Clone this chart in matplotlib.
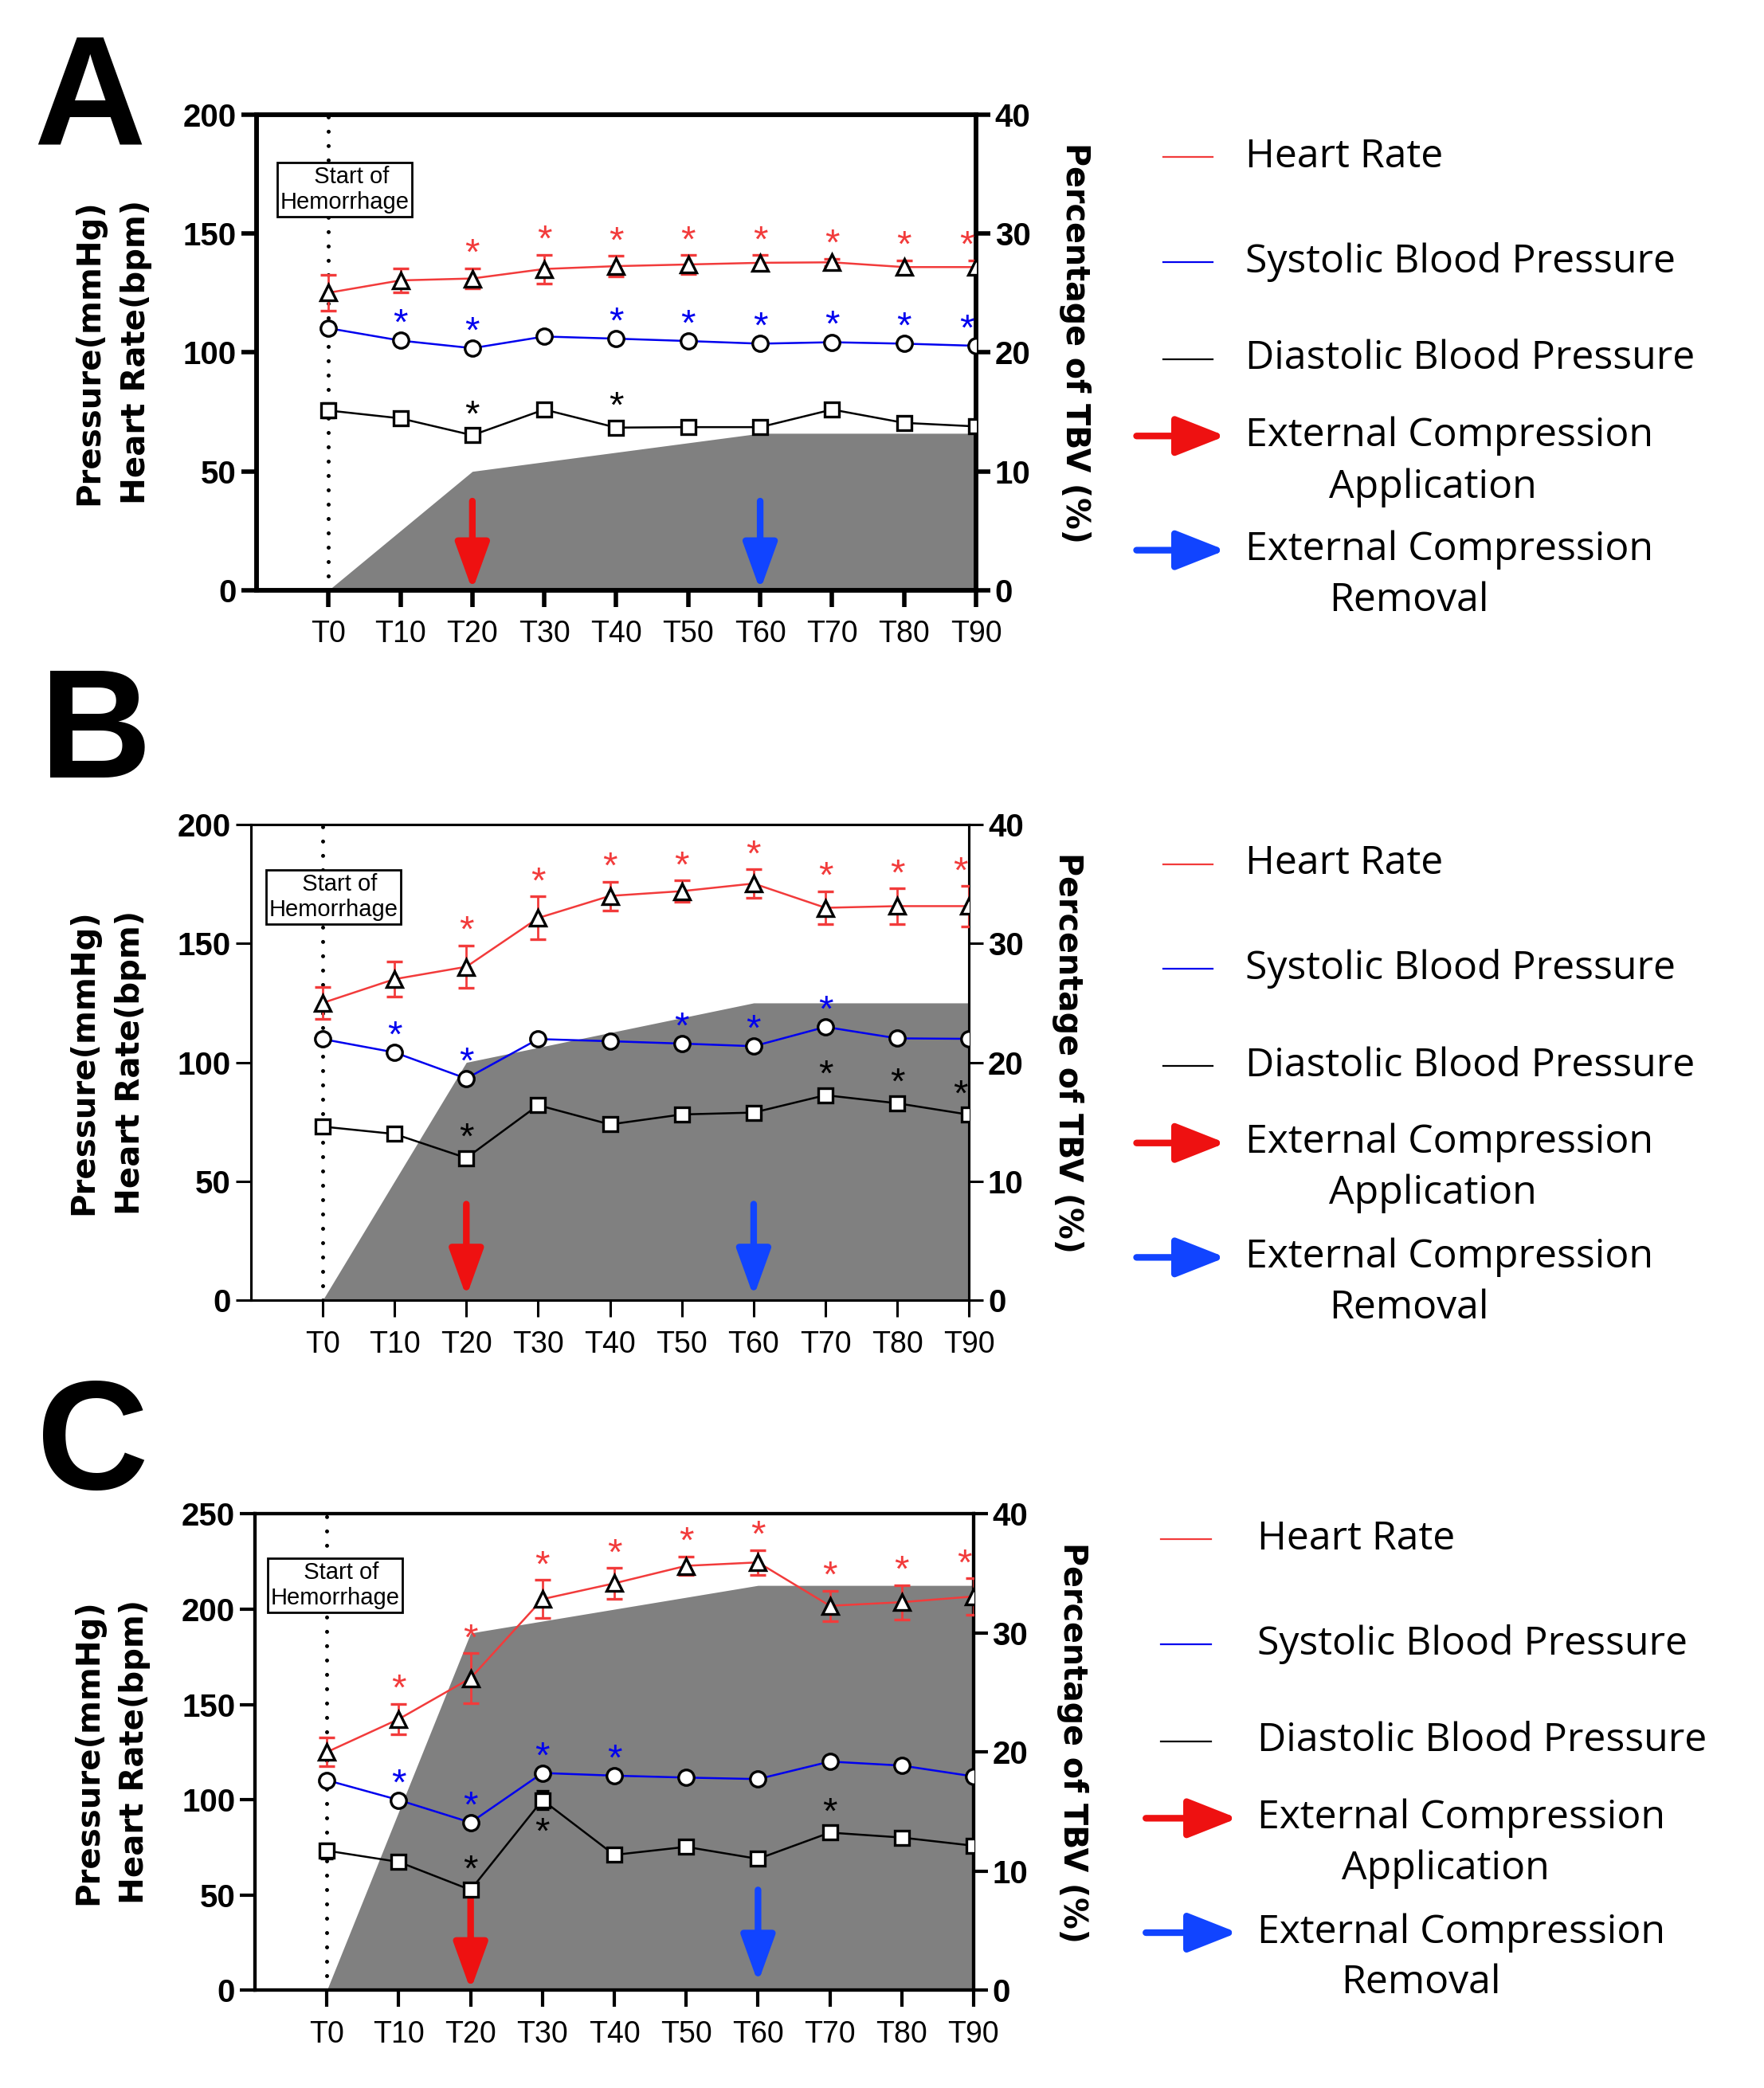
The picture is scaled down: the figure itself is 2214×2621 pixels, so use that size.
import matplotlib
matplotlib.use('Agg')
import matplotlib.pyplot as plt
from matplotlib.patches import FancyArrowPatch
from matplotlib.lines import Line2D

# time points (min) and labels
minutes = [0, 10, 20, 30, 40, 50, 60, 70, 80, 90]
tick_labels = ['T0', 'T10', 'T20', 'T30', 'T40', 'T50', 'T60', 'T70', 'T80', 'T90']

# ---- panel A ----
hr_a = [125.1, 130.3, 131.1, 135.1, 136.3, 137.0, 137.7, 137.9, 135.9, 135.9]
hr_a_err = [7.6, 5.0, 4.3, 6.0, 4.4, 4.0, 3.2, 1.6, 2.9, 2.9]
sbp_a = [110.2, 105.0, 101.8, 106.7, 105.8, 104.8, 103.7, 104.3, 103.7, 102.8]
sbp_a_err = [1, 1, 1, 1, 1, 1, 1, 1, 1, 1]
dbp_a = [75.6, 72.3, 65.2, 76.0, 68.4, 68.6, 68.6, 76.0, 70.4, 68.9]
dbp_a_err = [3, 1, 1, 1, 1.5, 1, 1, 1, 1, 1]
tbv_time = [0, 20, 60, 90]
tbv_a = [0, 10, 13.2, 13.2]
hr_star_a = [20, 30, 40, 50, 60, 70, 80, 90]
sbp_star_a = [10, 20, 40, 50, 60, 70, 80, 90]
dbp_star_a = [20, 40]
dbp_below_a = []

# ---- panel B ----
hr_b = [125.0, 135.0, 140.2, 160.7, 170.0, 172.0, 175.2, 165.0, 165.7, 165.7]
hr_b_err = [6.8, 7.5, 9.0, 9.0, 6.0, 4.5, 6.0, 7.0, 7.5, 8.5]
sbp_b = [109.8, 104.2, 93.2, 109.8, 108.9, 107.9, 106.8, 114.9, 110.1, 109.9]
sbp_b_err = [1, 1, 1, 1, 1, 1, 1, 1, 1, 1]
dbp_b = [73.0, 69.9, 59.8, 82.0, 73.9, 78.1, 78.9, 86.2, 82.8, 78.0]
dbp_b_err = [1, 1, 1, 1, 1, 2.5, 2, 1, 1, 1]
tbv_b = [0, 20, 25, 25]
hr_star_b = [20, 30, 40, 50, 60, 70, 80, 90]
sbp_star_b = [10, 20, 50, 60, 70]
dbp_star_b = [20, 70, 80, 90]
dbp_below_b = []

# ---- panel C ----
hr_c = [125.0, 142.3, 163.8, 205.3, 213.6, 222.8, 224.6, 201.8, 203.7, 206.7]
hr_c_err = [7.5, 8.0, 13.0, 10.0, 8.0, 5.0, 6.5, 8.0, 9.0, 9.5]
sbp_c = [110.2, 99.8, 88.0, 114.0, 112.6, 111.6, 110.8, 120.0, 117.9, 112.2]
sbp_c_err = [1, 1, 1, 1, 1, 1, 1, 1, 1, 1]
dbp_c = [73.2, 67.3, 52.6, 99.8, 71.0, 75.2, 68.9, 82.7, 80.1, 75.8]
dbp_c_err = [4, 1, 1, 5, 1, 1, 1, 1, 3, 1]
tbv_c = [0, 30, 34, 34]
hr_star_c = [10, 20, 30, 40, 50, 60, 70, 80, 90]
sbp_star_c = [10, 20, 30, 40]
dbp_star_c = [20, 70]
dbp_below_c = [30]

HR_COL = '#f23b3b'
SBP_COL = '#0000ee'
DBP_COL = 'black'
RED_ARR = '#ee1111'
BLUE_ARR = '#1144ff'
NUM_FONT = ['Liberation Sans', 'DejaVu Sans']
LEG_FONT = ['Open Sans', 'DejaVu Sans']


def add_stars(ax, times, vals, errs, color, dy):
    for t in times:
        i = minutes.index(t)
        dx = -8 if t == 90 else 0
        ax.annotate('*', xy=(t, vals[i] + (errs[i] if dy > 0 else -errs[i])),
                    xytext=(dx, dy), textcoords='offset points',
                    ha='center', va='center', color=color, fontsize=34,
                    family=NUM_FONT, zorder=6)


def draw_panel(ax, hr, hr_err, sbp, sbp_err, dbp, dbp_err, tbv, ymax,
               hr_st, sbp_st, dbp_st, dbp_below, box_xy, red_arr, blue_arr, sw):
    ax2 = ax.twinx()
    ax.set_zorder(ax2.get_zorder() + 1)
    ax.patch.set_visible(False)

    ax2.fill_between(tbv_time, 0, tbv, color='#808080', lw=0)
    ax2.set_ylim(0, 40)
    ax2.set_yticks([0, 10, 20, 30, 40])

    ax.plot([0, 0], [0, ymax], color='black', lw=3.6,
            linestyle=(0, (0.001, 3.6)), dash_capstyle='round', zorder=1.5)

    ax.errorbar(minutes, hr, yerr=hr_err, color=HR_COL, lw=1.8, marker='^',
                ms=14, mfc='white', mec='black', mew=2.4, capsize=7,
                capthick=2, elinewidth=2, zorder=4)
    ax.errorbar(minutes, sbp, yerr=sbp_err, color=SBP_COL, lw=1.8, marker='o',
                ms=14, mfc='white', mec='black', mew=2.4, capsize=6,
                capthick=2, elinewidth=2, ecolor='black', zorder=4)
    ax.errorbar(minutes, dbp, yerr=dbp_err, color=DBP_COL, lw=1.8, marker='s',
                ms=13, mfc='white', mec='black', mew=2.4, capsize=6,
                capthick=2, elinewidth=2, zorder=4)

    add_stars(ax, hr_st, hr, hr_err, HR_COL, 12)
    add_stars(ax, sbp_st, sbp, sbp_err, SBP_COL, 12)
    add_stars(ax, dbp_st, dbp, dbp_err, DBP_COL, 15)
    add_stars(ax, dbp_below, dbp, dbp_err, DBP_COL, -22)

    for x, y0, y1, col in [(20, red_arr[0], red_arr[1], RED_ARR),
                           (60, blue_arr[0], blue_arr[1], BLUE_ARR)]:
        ax.add_patch(FancyArrowPatch((x, y0), (x, y1), arrowstyle='-|>,head_length=3.6,head_width=1.3',
                                     mutation_scale=10, color=col, lw=6,
                                     shrinkA=0, shrinkB=0, zorder=3))

    ax.text(box_xy[0], box_xy[1], '  Start of\nHemorrhage', ha='center', va='center',
            fontsize=21, family=NUM_FONT, linespacing=1.2, zorder=5,
            bbox=dict(boxstyle='square,pad=0.12', fc='white', ec='black', lw=2))

    ax.set_xlim(-10, 90)
    ax.set_ylim(0, ymax)
    ax.set_yticks(list(range(0, ymax + 1, 50)))
    ax.set_xticks(minutes)
    ax.set_xticklabels(tick_labels, family=NUM_FONT, fontsize=27)
    for lab in ax.get_yticklabels() + ax2.get_yticklabels():
        lab.set_family(NUM_FONT)
        lab.set_fontweight('bold')
        lab.set_fontsize(29)
    for a in (ax, ax2):
        for s in a.spines.values():
            s.set_linewidth(sw)
    ax.tick_params(axis='x', length=15, width=sw, pad=12, direction='out')
    ax.tick_params(axis='y', length=14, width=sw, pad=4, direction='out')
    ax2.tick_params(axis='y', length=13, width=sw, pad=4, direction='out')

    ax.set_ylabel('Pressure(mmHg)\nHeart Rate(bpm)', fontsize=29,
                  fontweight='bold', family='DejaVu Sans', linespacing=1.6)
    ax.yaxis.set_label_coords(-0.145, 0.5)
    ax2.set_ylabel('Percentage of TBV (%)', fontsize=28.5, fontweight='bold',
                   family='DejaVu Sans', rotation=270, va='bottom')
    ax2.yaxis.set_label_coords(1.115, 0.52)


def draw_legend(fig, xl, xt, xa, ys):
    y_hr, y_sbp, y_dbp, y_app, ya_app, y_rem, ya_rem = ys
    for y, col, lab in [(y_hr, HR_COL, 'Heart Rate'),
                        (y_sbp, SBP_COL, 'Systolic Blood Pressure'),
                        (y_dbp, DBP_COL, 'Diastolic Blood Pressure')]:
        fig.add_artist(Line2D(xl, [y, y], transform=fig.transFigure, color=col, lw=1.6))
        fig.text(xt, y, lab, fontsize=36, family=LEG_FONT, ha='left', va='center')
    for yt, ya, col, lab in [(y_app, ya_app, RED_ARR, 'Application'),
                             (y_rem, ya_rem, BLUE_ARR, 'Removal')]:
        fig.add_artist(FancyArrowPatch((xa[0], ya), (xa[1], ya), transform=fig.transFigure,
                                       arrowstyle='-|>,head_length=3.8,head_width=1.5',
                                       mutation_scale=10, color=col, lw=6,
                                       shrinkA=0, shrinkB=0))
        fig.text(xt, ya, 'External Compression', fontsize=36, family=LEG_FONT,
                 ha='left', va='center')
        fig.text(xt + 0.0475, yt, lab, fontsize=36, family=LEG_FONT,
                 ha='left', va='center')


fig = plt.figure(figsize=(22.14, 26.21), dpi=100)

ax_a = fig.add_axes([0.1454, 0.7173, 0.4079, 0.2278])
ax_b = fig.add_axes([0.1422, 0.3773, 0.4072, 0.2278])
ax_c = fig.add_axes([0.1446, 0.0469, 0.4073, 0.2280])

draw_panel(ax_a, hr_a, hr_a_err, sbp_a, sbp_a_err, dbp_a, dbp_a_err, tbv_a, 200,
           hr_star_a, sbp_star_a, dbp_star_a, dbp_below_a, (2.3, 168.5),
           (37.5, 0), (37.5, 0), 4.0)
draw_panel(ax_b, hr_b, hr_b_err, sbp_b, sbp_b_err, dbp_b, dbp_b_err, tbv_b, 200,
           hr_star_b, sbp_star_b, dbp_star_b, dbp_below_b, (1.5, 169.5),
           (40.4, 1.5), (40.4, 1.5), 2.2)
draw_panel(ax_c, hr_c, hr_c_err, sbp_c, sbp_c_err, dbp_c, dbp_c_err, tbv_c, 250,
           hr_star_c, sbp_star_c, dbp_star_c, dbp_below_c, (1.1, 212.6),
           (50, 0), (52.6, 3.9), 3.0)

# legend rows: HR, SBP, DBP, application line 2, arrow/line 1, removal line 2, arrow/line 1
draw_legend(fig, (0.6594, 0.6873), 0.7061, (0.6443, 0.6948),
            (0.9249, 0.8746, 0.8281, 0.7664, 0.7912, 0.7123, 0.7365))
draw_legend(fig, (0.6594, 0.6873), 0.7061, (0.6443, 0.6948),
            (0.5862, 0.5359, 0.4895, 0.4284, 0.4526, 0.3736, 0.3978))
draw_legend(fig, (0.6579, 0.6865), 0.7129, (0.6496, 0.7016),
            (0.2629, 0.2126, 0.1661, 0.1050, 0.1292, 0.0502, 0.0744))

for x, y, letter in [(0.019, 0.9313, 'A'), (0.0226, 0.6276, 'B'), (0.021, 0.287, 'C')]:
    fig.text(x, y, letter, fontsize=140, fontweight='bold', ha='left', va='baseline',
             family=['Liberation Sans'])

fig.savefig('out.png', dpi=100)
